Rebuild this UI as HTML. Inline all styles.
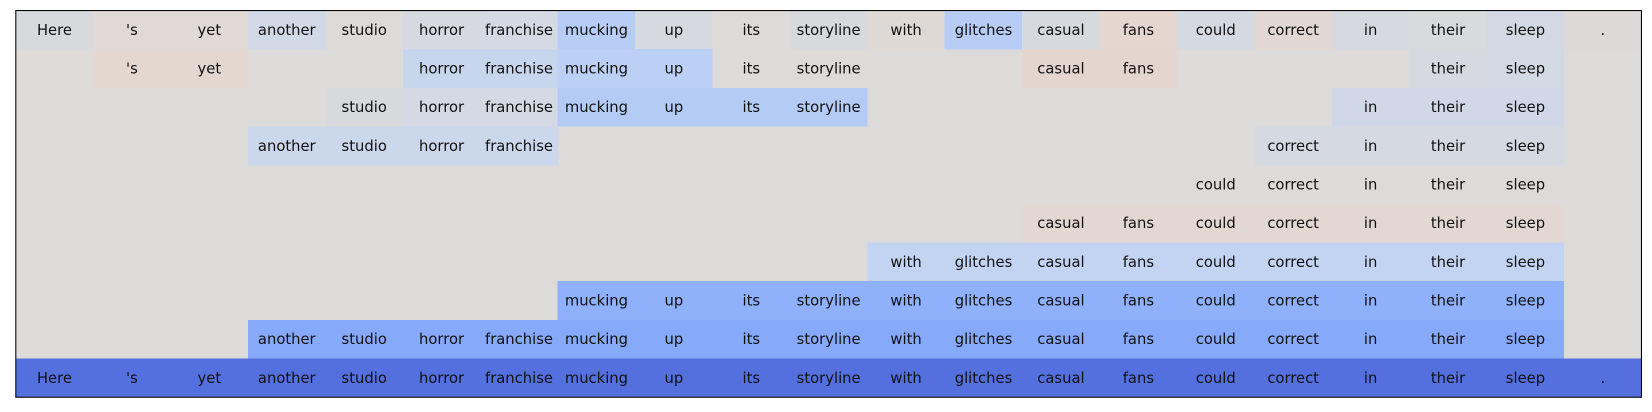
<!DOCTYPE html>
<html><head><meta charset="utf-8"><style>
html,body{margin:0;padding:0;background:#fff;width:1652px;height:412px;overflow:hidden}
text{font-family:"DejaVu Sans","Liberation Sans",sans-serif;font-size:14px;fill:#111;text-anchor:middle}
</style></head><body>
<svg width="1652" height="412" viewBox="0 0 1568 391" preserveAspectRatio="none" xmlns="http://www.w3.org/2000/svg">
<rect x="15" y="10" width="1543" height="367" fill="#dcdbda"/>
<g shape-rendering="crispEdges">
<rect x="15" y="10" width="73.6" height="36.8" fill="#d8d9dc"/>
<rect x="88.5" y="10" width="147" height="36.8" fill="#e0d9d6"/>
<rect x="235.4" y="10" width="73.6" height="36.8" fill="#d2d9e6"/>
<rect x="382.4" y="10" width="73.6" height="36.8" fill="#d6d9e0"/>
<rect x="455.9" y="10" width="73.6" height="36.8" fill="#d4d9e3"/>
<rect x="529.3" y="10" width="73.6" height="36.8" fill="#b8cdf5"/>
<rect x="602.8" y="10" width="73.6" height="36.8" fill="#d6d9df"/>
<rect x="749.8" y="10" width="73.6" height="36.8" fill="#d8d9dc"/>
<rect x="823.2" y="10" width="73.6" height="36.8" fill="#dfd9d5"/>
<rect x="896.7" y="10" width="73.6" height="36.8" fill="#b8cdf5"/>
<rect x="970.2" y="10" width="73.6" height="36.8" fill="#d6d9de"/>
<rect x="1043.7" y="10" width="73.6" height="36.8" fill="#e5d6cf"/>
<rect x="1117.1" y="10" width="73.6" height="36.8" fill="#d5d9e1"/>
<rect x="1190.6" y="10" width="73.6" height="36.8" fill="#e1d8d3"/>
<rect x="1264.1" y="10" width="73.6" height="36.8" fill="#d6d9e0"/>
<rect x="1337.6" y="10" width="73.6" height="36.8" fill="#d9dadc"/>
<rect x="1411" y="10" width="73.6" height="36.8" fill="#d2d9e4"/>
<rect x="1484.5" y="10" width="73.5" height="36.8" fill="#dcd9d8"/>
<rect x="88.5" y="46.7" width="147" height="36.8" fill="#e3d7d0"/>
<rect x="382.4" y="46.7" width="147" height="36.8" fill="#c8d6ed"/>
<rect x="529.3" y="46.7" width="147" height="36.8" fill="#bccff5"/>
<rect x="970.2" y="46.7" width="147" height="36.8" fill="#e4d6ce"/>
<rect x="1337.6" y="46.7" width="73.6" height="36.8" fill="#d6d9e0"/>
<rect x="1411" y="46.7" width="73.6" height="36.8" fill="#d3d9e3"/>
<rect x="308.9" y="83.4" width="73.6" height="36.8" fill="#d8d9dc"/>
<rect x="382.4" y="83.4" width="147" height="36.8" fill="#d4d9e3"/>
<rect x="529.3" y="83.4" width="294" height="36.8" fill="#b4cbf6"/>
<rect x="1264.1" y="83.4" width="220.5" height="36.8" fill="#d0d8e7"/>
<rect x="235.4" y="120.1" width="294" height="36.8" fill="#cbd7eb"/>
<rect x="1190.6" y="120.1" width="294" height="36.8" fill="#d4d9e2"/>
<rect x="970.2" y="193.5" width="514.4" height="36.8" fill="#e3d8d1"/>
<rect x="823.2" y="230.2" width="661.4" height="36.8" fill="#c3d4f2"/>
<rect x="529.3" y="266.9" width="955.3" height="36.8" fill="#8fb0fb"/>
<rect x="235.4" y="303.6" width="1249.2" height="36.8" fill="#86a9f9"/>
<rect x="15" y="340.3" width="1543" height="36.7" fill="#5470de"/>
</g>
<rect x="15" y="10" width="1543" height="367" fill="none" stroke="#000" stroke-width="1"/>
<g transform="translate(0,33)">
<text x="51.7">Here</text><text x="125.2">'s</text><text x="198.7">yet</text><text x="272.2">another</text><text x="345.7">studio</text><text x="419.1">horror</text><text x="492.6">franchise</text><text x="566.1">mucking</text><text x="639.6">up</text><text x="713.1">its</text><text x="786.5">storyline</text><text x="860">with</text><text x="933.5">glitches</text><text x="1007">casual</text><text x="1080.5">fans</text><text x="1153.9">could</text><text x="1227.4">correct</text><text x="1300.9">in</text><text x="1374.4">their</text><text x="1447.9">sleep</text><text x="1521.3">.</text>
</g>
<g transform="translate(0,69.7)">
<text x="125.2">'s</text><text x="198.7">yet</text><text x="419.1">horror</text><text x="492.6">franchise</text><text x="566.1">mucking</text><text x="639.6">up</text><text x="713.1">its</text><text x="786.5">storyline</text><text x="1007">casual</text><text x="1080.5">fans</text><text x="1374.4">their</text><text x="1447.9">sleep</text>
</g>
<g transform="translate(0,106.4)">
<text x="345.7">studio</text><text x="419.1">horror</text><text x="492.6">franchise</text><text x="566.1">mucking</text><text x="639.6">up</text><text x="713.1">its</text><text x="786.5">storyline</text><text x="1300.9">in</text><text x="1374.4">their</text><text x="1447.9">sleep</text>
</g>
<g transform="translate(0,143.1)">
<text x="272.2">another</text><text x="345.7">studio</text><text x="419.1">horror</text><text x="492.6">franchise</text><text x="1227.4">correct</text><text x="1300.9">in</text><text x="1374.4">their</text><text x="1447.9">sleep</text>
</g>
<g transform="translate(0,179.8)">
<text x="1153.9">could</text><text x="1227.4">correct</text><text x="1300.9">in</text><text x="1374.4">their</text><text x="1447.9">sleep</text>
</g>
<g transform="translate(0,216.5)">
<text x="1007">casual</text><text x="1080.5">fans</text><text x="1153.9">could</text><text x="1227.4">correct</text><text x="1300.9">in</text><text x="1374.4">their</text><text x="1447.9">sleep</text>
</g>
<g transform="translate(0,253.2)">
<text x="860">with</text><text x="933.5">glitches</text><text x="1007">casual</text><text x="1080.5">fans</text><text x="1153.9">could</text><text x="1227.4">correct</text><text x="1300.9">in</text><text x="1374.4">their</text><text x="1447.9">sleep</text>
</g>
<g transform="translate(0,289.9)">
<text x="566.1">mucking</text><text x="639.6">up</text><text x="713.1">its</text><text x="786.5">storyline</text><text x="860">with</text><text x="933.5">glitches</text><text x="1007">casual</text><text x="1080.5">fans</text><text x="1153.9">could</text><text x="1227.4">correct</text><text x="1300.9">in</text><text x="1374.4">their</text><text x="1447.9">sleep</text>
</g>
<g transform="translate(0,326.6)">
<text x="272.2">another</text><text x="345.7">studio</text><text x="419.1">horror</text><text x="492.6">franchise</text><text x="566.1">mucking</text><text x="639.6">up</text><text x="713.1">its</text><text x="786.5">storyline</text><text x="860">with</text><text x="933.5">glitches</text><text x="1007">casual</text><text x="1080.5">fans</text><text x="1153.9">could</text><text x="1227.4">correct</text><text x="1300.9">in</text><text x="1374.4">their</text><text x="1447.9">sleep</text>
</g>
<g transform="translate(0,363.3)">
<text x="51.7">Here</text><text x="125.2">'s</text><text x="198.7">yet</text><text x="272.2">another</text><text x="345.7">studio</text><text x="419.1">horror</text><text x="492.6">franchise</text><text x="566.1">mucking</text><text x="639.6">up</text><text x="713.1">its</text><text x="786.5">storyline</text><text x="860">with</text><text x="933.5">glitches</text><text x="1007">casual</text><text x="1080.5">fans</text><text x="1153.9">could</text><text x="1227.4">correct</text><text x="1300.9">in</text><text x="1374.4">their</text><text x="1447.9">sleep</text><text x="1521.3">.</text>
</g>
</svg>
</body></html>
